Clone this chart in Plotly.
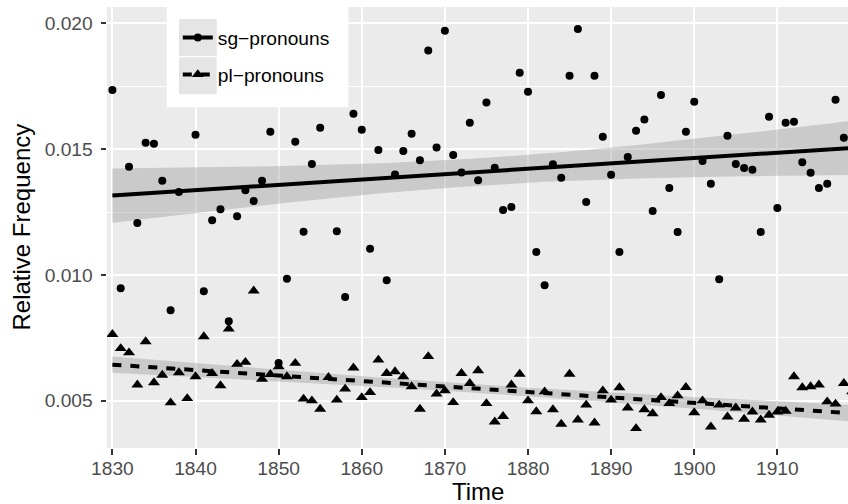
import numpy as np
import plotly.graph_objects as go

# ---------------- data ----------------
years = list(range(1830, 1920))

# 1839 and 1856 lie under the legend box in the reference (estimated values)
sg_freq = [
    0.01735, 0.00947, 0.01430, 0.01206, 0.01525, 0.01521, 0.01374, 0.00860, 0.01330, 0.01800,
    0.01557, 0.00935, 0.01217, 0.01261, 0.00816, 0.01233, 0.01337, 0.01294, 0.01374, 0.01569,
    0.00650, 0.00985, 0.01529, 0.01172, 0.01441, 0.01585, 0.01740, 0.01174, 0.00912, 0.01641,
    0.01577, 0.01104, 0.01497, 0.00979, 0.01399, 0.01493, 0.01561, 0.01456, 0.01892, 0.01507,
    0.01971, 0.01477, 0.01407, 0.01605, 0.01376, 0.01685, 0.01426, 0.01258, 0.01270, 0.01804,
    0.01728, 0.01091, 0.00959, 0.01440, 0.01386, 0.01792, 0.01978, 0.01290, 0.01792, 0.01549,
    0.01398, 0.01091, 0.01469, 0.01573, 0.01618, 0.01254, 0.01715, 0.01346, 0.01171, 0.01569,
    0.01688, 0.01453, 0.01362, 0.00983, 0.01553, 0.01441, 0.01425, 0.01418, 0.01171, 0.01629,
    0.01266, 0.01605, 0.01609, 0.01448, 0.01406, 0.01346, 0.01362, 0.01696, 0.01545, 0.01403,
]

pl_freq = [
    0.00764, 0.00708, 0.00691, 0.00563, 0.00735, 0.00572, 0.00602, 0.00492, 0.00612, 0.00509,
    0.00596, 0.00755, 0.00609, 0.00560, 0.00786, 0.00645, 0.00653, 0.00937, 0.00586, 0.00605,
    0.00635, 0.00596, 0.00649, 0.00507, 0.00500, 0.00467, 0.00593, 0.00503, 0.00547, 0.00631,
    0.00513, 0.00533, 0.00662, 0.00609, 0.00616, 0.00596, 0.00556, 0.00467, 0.00676, 0.00527,
    0.00540, 0.00493, 0.00609, 0.00569, 0.00620, 0.00489, 0.00416, 0.00438, 0.00563, 0.00606,
    0.00500, 0.00457, 0.00536, 0.00465, 0.00407, 0.00606, 0.00424, 0.00483, 0.00412, 0.00540,
    0.00503, 0.00552, 0.00472, 0.00390, 0.00465, 0.00449, 0.00513, 0.00489, 0.00520, 0.00553,
    0.00453, 0.00500, 0.00396, 0.00483, 0.00436, 0.00472, 0.00427, 0.00456, 0.00424, 0.00443,
    0.00456, 0.00459, 0.00596, 0.00552, 0.00556, 0.00563, 0.00496, 0.00487, 0.00569, 0.00536,
]

series_names = ["sg\u2212pronouns", "pl\u2212pronouns"]
y_ticks = [0.005, 0.010, 0.015, 0.020]
y_minor = [0.0075, 0.0125, 0.0175]
x_ticks = list(range(1830, 1920, 10))

# ---------------- helpers ----------------
def t_quantile(df):
    z = 1.959963985
    return (z + (z**3 + z) / (4 * df)
            + (5 * z**5 + 16 * z**3 + 3 * z) / (96 * df**2)
            + (3 * z**7 + 19 * z**5 + 17 * z**3 - 15 * z) / (384 * df**3))


def lm_band(xs, ys, n=100):
    pairs = [(a, b) for a, b in zip(xs, ys) if b is not None]
    x = np.array([p[0] for p in pairs], float)
    y = np.array([p[1] for p in pairs], float)
    xm = x.mean()
    X = np.column_stack([np.ones(len(x)), x - xm])
    beta, *_ = np.linalg.lstsq(X, y, rcond=None)
    resid = y - X @ beta
    s2 = resid @ resid / (len(x) - 2)
    cov = s2 * np.linalg.inv(X.T @ X)
    xg = np.linspace(x.min(), x.max(), n)
    Xg = np.column_stack([np.ones(n), xg - xm])
    fit = Xg @ beta
    se = np.sqrt(np.einsum("ij,jk,ik->i", Xg, cov, Xg))
    t = t_quantile(len(x) - 2)
    return xg, fit, fit - t * se, fit + t * se


fig = go.Figure()

BAND = "rgba(153,153,153,0.4)"
symbols = ["circle", "triangle-up"]
sizes = [8, 10.5]
dashes = ["solid", "9px,9px"]

fits = [lm_band(years, vals) for vals in (sg_freq, pl_freq)]

# confidence bands
for xg, fit, lo, hi in fits:
    fig.add_trace(go.Scatter(x=xg, y=hi, mode="lines", line=dict(width=0),
                             showlegend=False, hoverinfo="skip"))
    fig.add_trace(go.Scatter(x=xg, y=lo, mode="lines", line=dict(width=0),
                             fill="tonexty", fillcolor=BAND,
                             showlegend=False, hoverinfo="skip"))

# points
for vals, sym, sz, nm in zip((sg_freq, pl_freq), symbols, sizes, series_names):
    fig.add_trace(go.Scatter(x=years, y=vals, mode="markers", name=nm,
                             marker=dict(symbol=sym, size=sz, color="black"),
                             showlegend=False))

# fitted lines
for (xg, fit, lo, hi), dash, nm in zip(fits, dashes, series_names):
    fig.add_trace(go.Scatter(x=xg, y=fit, mode="lines", name=nm,
                             line=dict(color="black", width=4, dash=dash),
                             showlegend=False, hoverinfo="skip"))

# legend entries
for sym, sz, dash, nm in zip(symbols, sizes, dashes, series_names):
    fig.add_trace(go.Scatter(x=[None], y=[None], mode="lines+markers", name=nm,
                             legendgroup=nm,
                             line=dict(color="black", width=4, dash=dash),
                             marker=dict(symbol=sym, size=sz, color="black")))

# ---------------- layout ----------------
W, H = 848, 504
L, R, T, B = 107, 0, 7, 56
pw, ph = W - L - R, H - T - B


def px_x(px):
    return (px - L) / pw


def px_y(py):
    return (H - B - py) / ph


shapes = [
    dict(type="rect", xref="paper", yref="paper", layer="above",
         x0=px_x(166.7), x1=px_x(348.3), y0=px_y(107.3), y1=px_y(6),
         fillcolor="white", line=dict(width=0)),
    dict(type="rect", xref="paper", yref="paper", layer="above",
         x0=px_x(179), x1=px_x(216.7), y0=px_y(56), y1=px_y(19),
         fillcolor="#E5E5E5", line=dict(width=0)),
    dict(type="rect", xref="paper", yref="paper", layer="above",
         x0=px_x(179), x1=px_x(216.7), y0=px_y(94.3), y1=px_y(57.3),
         fillcolor="#E5E5E5", line=dict(width=0)),
]

FONT = "Liberation Sans, Arial, Helvetica, sans-serif"

fig.update_layout(
    width=W, height=H,
    margin=dict(l=L, r=R, t=T, b=B, pad=0),
    paper_bgcolor="white", plot_bgcolor="#EBEBEB",
    font=dict(family=FONT, color="black"),
    shapes=shapes,
    showlegend=True,
    legend=dict(x=px_x(177.8), y=px_y(18.5), xanchor="left", yanchor="top",
                bgcolor="rgba(0,0,0,0)", borderwidth=0,
                font=dict(size=19.2, color="black", family=FONT),
                tracegroupgap=9, itemwidth=30),
    annotations=[
        dict(text="Relative Frequency", xref="paper", yref="paper",
             x=px_x(21), y=0.5, xanchor="center", yanchor="middle",
             textangle=-90, showarrow=False,
             font=dict(size=24, color="black", family=FONT)),
        dict(text="Time", xref="paper", yref="paper",
             x=0.5, y=px_y(505.5), xanchor="center", yanchor="bottom",
             showarrow=False, borderpad=0,
             font=dict(size=24, color="black", family=FONT)),
    ],
)

fig.update_xaxes(
    range=[1829.35, 1918.5], tickmode="array", tickvals=x_ticks,
    ticktext=[str(v) for v in x_ticks],
    showgrid=True, gridcolor="white", gridwidth=2.2,
    zeroline=False, showline=False,
    ticks="outside", ticklen=5.5, tickwidth=2.2, tickcolor="#333333",
    tickfont=dict(size=19.2, color="#4D4D4D", family=FONT),
    ticklabelstandoff=-3,
)

fig.update_yaxes(
    range=[0.00312, 0.02065], tickmode="array", tickvals=y_ticks,
    ticktext=[f"{v:.3f}" for v in y_ticks],
    showgrid=True, gridcolor="white", gridwidth=2.2,
    minor=dict(tickmode="array", tickvals=y_minor,
               showgrid=True, gridcolor="white", gridwidth=1.1, ticks=""),
    zeroline=False, showline=False,
    ticks="outside", ticklen=5.5, tickwidth=2.2, tickcolor="#333333",
    tickfont=dict(size=19.2, color="#4D4D4D", family=FONT),
    ticklabelstandoff=4,
)

fig.write_html("out.html")
